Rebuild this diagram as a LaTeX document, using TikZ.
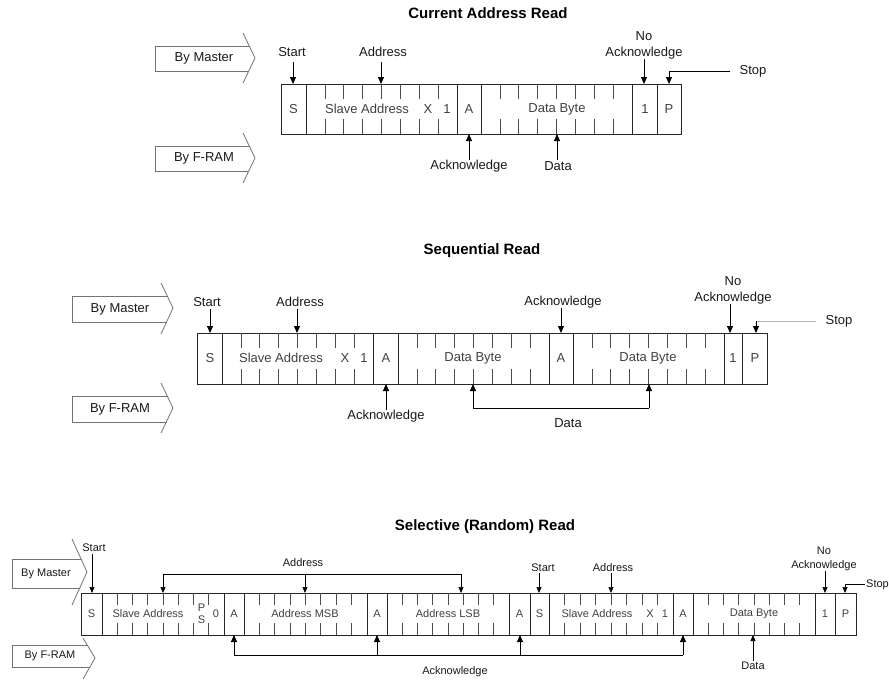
\documentclass[tikz,border=0pt]{standalone}
\usepackage{fontspec}
\setmainfont{Liberation Sans}
\usetikzlibrary{arrows.meta}
\tikzset{
 fr/.style={draw=black!85, line width=0.9pt},
 tk/.style={draw=black!70, line width=0.8pt},
 ar/.style={draw=black, line width=0.9pt, -{Triangle[length=7pt,width=6pt]}},
 ars/.style={draw=black, line width=0.7pt, -{Triangle[length=6pt,width=5pt]}},
 brk/.style={draw=black, line width=0.9pt},
 blk/.style={draw=black!55, line width=0.8pt},
 lb/.style={inner sep=0pt, text=black!90, font=\fontsize{13}{16}\selectfont, align=center},
 lbs/.style={inner sep=0pt, text=black!90, font=\fontsize{11}{14}\selectfont, align=center},
 ct/.style={inner sep=0pt, text=black!75, font=\fontsize{13}{16}\selectfont},
 cts/.style={inner sep=0pt, text=black!75, font=\fontsize{11}{12}\selectfont, align=center},
 ttl/.style={inner sep=0pt, text=black, font=\fontsize{15}{18}\selectfont\bfseries},
}
\newcommand\mkticks[5]{\foreach \k in {1,...,7}{\draw[tk] ({#1+#2*\k},#3)--({#1+#2*\k},{#3+#5}); \draw[tk] ({#1+#2*\k},{#4-#5})--({#1+#2*\k},#4);}}
\begin{document}
\begin{tikzpicture}[x=1pt,y=-1pt]
\useasboundingbox (0,0) rectangle (889,681);
% ================= Current Address Read
\node[ttl] (t1) at (488,13) {Current Address Read};
\draw[blk] (249,46)--(155,46)--(155,71)--(249,71);
\draw[blk] (243,33)--(255,58)--(243,83);
\node[lb] (bm1) at (204,58) {By Master};
\draw[blk] (249,146)--(155,146)--(155,171)--(249,171);
\draw[blk] (243,133)--(255,158)--(243,183);
\node[lb] (bf1) at (204,158) {By F-RAM};
\draw[fr] (281,84) rectangle (681,134);
\foreach \x in {306,457,481,632,657} \draw[fr] (\x,84)--(\x,134);
\mkticks{306}{18.9}{84}{134}{15}
\mkticks{481}{18.9}{84}{134}{15}
\node[ct] (c1s) at (293.5,109) {S};
\node[ct] (c1sa) at (367,109) {Slave Address};
\node[ct] (c1x) at (428,109) {X};
\node[ct] (c1r) at (447,109) {1};
\node[ct] (c1a) at (469,109) {A};
\node[ct] (c1d) at (557,109) {Data Byte};
\node[ct] (c1n) at (645,109) {1};
\node[ct] (c1p) at (669,109) {P};
\node[lb] (l1st) at (292,52) {Start};
\coordinate (p1st) at (293,84);
\draw[ar, shorten <=5pt] (l1st.south -| p1st) -- (p1st);
\node[lb] (l1ad) at (383,52) {Address};
\coordinate (p1ad) at (381,84);
\draw[ar, shorten <=5pt] (l1ad.south -| p1ad) -- (p1ad);
\node[lb] (l1na) at (644,45) {No\\Acknowledge};
\coordinate (p1na) at (644,84);
\draw[ar] (l1na.south -| p1na) -- (p1na);
\node[lb] (l1sp) at (753,71) {Stop};
\coordinate (p1sp) at (669,84);
\draw[ar, shorten <=9pt] (l1sp.west) -| (p1sp);
\node[lb] (l1ak) at (469,166) {Acknowledge};
\coordinate (p1ak) at (469,134);
\draw[ar] (l1ak.north -| p1ak) -- (p1ak);
\node[lb] (l1dt) at (558,166) {Data};
\coordinate (p1dt) at (557,134);
\draw[ar, shorten <=1pt] (l1dt.north -| p1dt) -- (p1dt);
% ================= Sequential Read
\node[ttl] (t2) at (482,251) {Sequential Read};
\draw[blk] (167,296)--(72,296)--(72,322)--(167,322);
\draw[blk] (161,283)--(173,308)--(161,334);
\node[lb] (bm2) at (120,309) {By Master};
\draw[blk] (167,396)--(72,396)--(72,422)--(167,422);
\draw[blk] (161,383)--(173,408)--(161,433);
\node[lb] (bf2) at (120,409) {By F-RAM};
\draw[fr] (197,333) rectangle (767,384);
\foreach \x in {222,373,398,549,573,724,742} \draw[fr] (\x,333)--(\x,384);
\mkticks{222}{18.9}{333}{384}{15}
\mkticks{398}{18.9}{333}{384}{15}
\mkticks{573}{18.9}{333}{384}{15}
\node[ct] (c2s) at (210,358) {S};
\node[ct] (c2sa) at (281,358) {Slave Address};
\node[ct] (c2x) at (345,358) {X};
\node[ct] (c2r) at (364,358) {1};
\node[ct] (c2a) at (386,358) {A};
\node[ct] (c2d) at (473,358) {Data Byte};
\node[ct] (c2a2) at (561,358) {A};
\node[ct] (c2d2) at (648,358) {Data Byte};
\node[ct] (c2n) at (733,358) {1};
\node[ct] (c2p) at (755,358) {P};
\node[lb] (l2st) at (207,302) {Start};
\coordinate (p2st) at (210,333);
\draw[ar, shorten <=2pt] (l2st.south -| p2st) -- (p2st);
\node[lb] (l2ad) at (300,302) {Address};
\coordinate (p2ad) at (297,333);
\draw[ar, shorten <=2pt] (l2ad.south -| p2ad) -- (p2ad);
\node[lb] (l2ak) at (563,302) {Acknowledge};
\coordinate (p2ak) at (561,333);
\draw[ar] (l2ak.south -| p2ak) -- (p2ak);
\node[lb] (l2na) at (733,290) {No\\Acknowledge};
\coordinate (p2na) at (730,333);
\draw[ar] (l2na.south -| p2na) -- (p2na);
\node[lb] (l2sp) at (839,321) {Stop};
\coordinate (p2sp) at (756,333);
\coordinate (q2sp) at (756,321);
\draw[draw=black!30, line width=0.9pt, shorten <=9pt] (l2sp.west) -- (q2sp);
\draw[ar] (q2sp) -- (p2sp);
\node[lb] (l2ak2) at (386,416) {Acknowledge};
\coordinate (p2ak2) at (386,384);
\draw[ar] (l2ak2.north -| p2ak2) -- (p2ak2);
\coordinate (q2dl) at (473,408);
\coordinate (q2dr) at (649,408);
\coordinate (p2dl) at (473,384);
\coordinate (p2dr) at (649,384);
\draw[brk] (q2dl) -- (q2dr);
\draw[ar] (q2dl) -- (p2dl);
\draw[ar] (q2dr) -- (p2dr);
\node[lb] (l2dt) at (568,423) {Data};
% ================= Selective (Random) Read
\node[ttl] (t3) at (485,527) {Selective (Random) Read};
\draw[blk] (81,559)--(12,559)--(12,588)--(80,588);
\draw[blk] (72,539)--(87,572)--(72,605);
\node[lbs] (bm3) at (46,574) {By Master};
\draw[blk] (87,645)--(12,645)--(12,667)--(89,667);
\draw[blk] (83,638)--(95,658)--(83,679);
\node[lbs] (bf3) at (50,656) {By F-RAM};
\draw[fr] (81,593) rectangle (856,635);
\foreach \x in {102,224,244,367,387,509,530,549,673,693,815,835} \draw[fr] (\x,593)--(\x,635);
\mkticks{102}{15.25}{593}{635}{12}
\mkticks{244}{15.375}{593}{635}{12}
\mkticks{387}{15.25}{593}{635}{12}
\mkticks{549}{15.5}{593}{635}{12}
\mkticks{693}{15.25}{593}{635}{12}
\node[cts] (c3s) at (91.5,614) {S};
\node[cts] (c3sa) at (148,614) {Slave Address};
\node[cts] (c3ps) at (201.5,614) {P\\S};
\node[cts] (c3z) at (216,614) {0};
\node[cts] (c3a1) at (234,614) {A};
\node[cts] (c3msb) at (305,614) {Address MSB};
\node[cts] (c3a2) at (377,614) {A};
\node[cts] (c3lsb) at (448,614) {Address LSB};
\node[cts] (c3a3) at (519.5,614) {A};
\node[cts] (c3s2) at (539.5,614) {S};
\node[cts] (c3sa2) at (597,614) {Slave Address};
\node[cts] (c3x) at (650,614) {X};
\node[cts] (c3r) at (665,614) {1};
\node[cts] (c3a4) at (683,614) {A};
\node[cts] (c3d) at (754,614) {Data Byte};
\node[cts] (c3n) at (825,614) {1};
\node[cts] (c3p) at (845.5,614) {P};
\node[lbs] (l3st) at (94,548) {Start};
\coordinate (p3st) at (92,593);
\draw[ars, shorten <=2pt] (l3st.south -| p3st) -- (p3st);
\node[lbs] (l3ad) at (303,563) {Address};
\coordinate (q3al) at (163,574);
\coordinate (q3am) at (305,574);
\coordinate (q3ar) at (461,574);
\coordinate (p3al) at (163,593);
\coordinate (p3am) at (305,593);
\coordinate (p3ar) at (461,593);
\draw[brk] (q3al) -- (q3ar);
\draw[ars] (q3al) -- (p3al);
\draw[ars] (q3am) -- (p3am);
\draw[ars] (q3ar) -- (p3ar);
\node[lbs] (l3st2) at (543,568) {Start};
\coordinate (p3st2) at (539,593);
\draw[ars, shorten <=1pt] (l3st2.south -| p3st2) -- (p3st2);
\node[lbs] (l3ad2) at (613,568) {Address};
\coordinate (p3ad2) at (611,593);
\draw[ars, shorten <=1pt] (l3ad2.south -| p3ad2) -- (p3ad2);
\node[lbs] (l3na) at (824,559) {No\\Acknowledge};
\coordinate (p3na) at (825,593);
\draw[ars] (l3na.south -| p3na) -- (p3na);
\node[lbs, anchor=west] (l3sp) at (866,585) {Stop};
\coordinate (q3sp) at (845,584);
\coordinate (p3sp) at (845,593);
\draw[brk, shorten <=1pt] (l3sp.west |- q3sp) -- (q3sp);
\draw[ars] (q3sp) -- (p3sp);
\coordinate (q3k1) at (234,655);
\coordinate (q3k2) at (377,655);
\coordinate (q3k3) at (520,655);
\coordinate (q3k4) at (683,655);
\coordinate (p3k1) at (234,635);
\coordinate (p3k2) at (377,635);
\coordinate (p3k3) at (520,635);
\coordinate (p3k4) at (683,635);
\draw[brk] (q3k1) -- (q3k4);
\draw[ar] (q3k1) -- (p3k1);
\draw[ar] (q3k2) -- (p3k2);
\draw[ar] (q3k3) -- (p3k3);
\draw[ar] (q3k4) -- (p3k4);
\node[lbs] (l3ak) at (455,672) {Acknowledge};
\node[lbs] (l3dt) at (753,666) {Data};
\coordinate (p3dt) at (753,635);
\draw[ars, shorten <=1pt] (l3dt.north -| p3dt) -- (p3dt);
\end{tikzpicture}
\end{document}
